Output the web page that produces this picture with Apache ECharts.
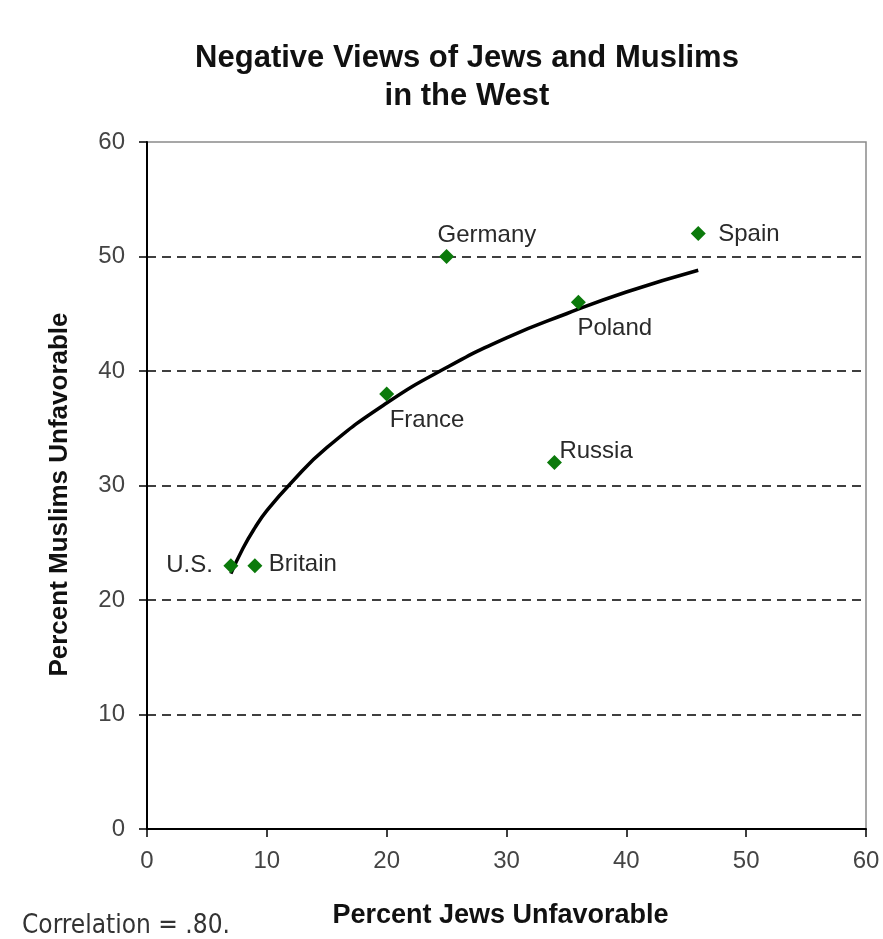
<!DOCTYPE html>
<html><head><meta charset="utf-8">
<script src="https://cdn.jsdelivr.net/npm/echarts@6/dist/echarts.min.js"></script>
<style>html,body{margin:0;padding:0;background:#fff}#c{width:883px;height:939px}</style>
</head><body><div id="c"></div>
<script>
const countries = ['U.S.', 'Britain', 'France', 'Germany', 'Russia', 'Poland', 'Spain'];
const jewsUnfav = [7, 9, 20, 25, 34, 36, 46];
const muslimsUnfav = [23, 23, 38, 50, 32, 46, 52];
const trendX = [7, 8, 9, 10, 12, 15, 20, 25, 30, 35, 40, 46];
const trendY = [22.3, 24.5, 26.3, 27.8, 30.2, 33.3, 37.2, 40.3, 42.9, 45.0, 46.9, 48.8];
const ticks = [0, 10, 20, 30, 40, 50, 60];

const font = '"Liberation Sans", Arial, sans-serif';
// label placement (style only): [align, dx, dy]
const labelStyle = {
  'U.S.': ['right', -18, 0],
  'Britain': ['left', 14, -1],
  'France': ['left', 3, 26],
  'Germany': ['left', -9, -21],
  'Russia': ['left', 5, -11],
  'Poland': ['left', -1, 26],
  'Spain': ['left', 20, 1]
};

const pts = countries.map((c, i) => {
  const s = labelStyle[c];
  return {
    value: [jewsUnfav[i], muslimsUnfav[i]],
    name: c,
    label: {show: true, formatter: c, position: 'inside', align: s[0], verticalAlign: 'middle',
      offset: [s[1], s[2]], fontSize: 24, color: '#2a2a2a', fontFamily: font}
  };
});

const gridLines = ticks.filter(t => t > ticks[0] && t < ticks[ticks.length - 1]).map(t => ({yAxis: t}));

const chart = echarts.init(document.getElementById('c'), null, {renderer: 'canvas'});
chart.setOption({
  backgroundColor: '#fff',
  animation: false,
  title: {
    text: 'Negative Views of Jews and Muslims\nin the West',
    left: 462, top: 34, textAlign: 'center',
    textStyle: {fontFamily: font, fontWeight: 'bold', fontSize: 31, lineHeight: 38, color: '#111'}
  },
  graphic: [{
    type: 'text', left: 22, top: 913,
    style: {text: 'Correlation = .80.', font: '26px "DejaVu Sans Condensed", sans-serif', fill: '#333'}
  }],
  grid: {left: 147, right: 17, top: 142, bottom: 110, show: true, borderColor: '#8a8a8a', borderWidth: 1.5},
  xAxis: {
    type: 'value', min: ticks[0], max: ticks[ticks.length - 1], interval: 10,
    name: 'Percent Jews Unfavorable', nameLocation: 'middle', nameGap: 73,
    nameTextStyle: {fontFamily: font, fontWeight: 'bold', fontSize: 27, color: '#111', padding: [0, 12, 0, 0]},
    axisLine: {lineStyle: {color: '#000', width: 2}},
    axisTick: {show: true, inside: false, length: 8, lineStyle: {color: '#000', width: 1.5}},
    axisLabel: {fontFamily: font, fontSize: 24, color: '#444', margin: 20},
    splitLine: {show: false}
  },
  yAxis: {
    type: 'value', min: ticks[0], max: ticks[ticks.length - 1], interval: 10,
    name: 'Percent Muslims Unfavorable', nameLocation: 'middle', nameGap: 74,
    nameTextStyle: {fontFamily: font, fontWeight: 'bold', fontSize: 26, color: '#111', padding: [0, 18, 0, 0]},
    axisLine: {show: true, lineStyle: {color: '#000', width: 2}},
    axisTick: {show: true, length: 8, lineStyle: {color: '#000', width: 1.5}},
    axisLabel: {fontFamily: font, fontSize: 24, color: '#444', margin: 22},
    splitLine: {show: false}
  },
  series: [
    {
      type: 'line', data: trendX.map((x, i) => [x, trendY[i]]), smooth: true,
      showSymbol: false, lineStyle: {color: '#000', width: 3.5}, z: 2, silent: true,
      markLine: {
        silent: true, symbol: 'none', label: {show: false},
        lineStyle: {color: '#000', type: [9, 6], width: 1.6},
        data: gridLines, z: 1
      }
    },
    {
      type: 'scatter', data: pts, symbol: 'diamond', symbolSize: 15,
      itemStyle: {color: '#0b7a0b', opacity: 1}, z: 3
    }
  ]
});
</script></body></html>
